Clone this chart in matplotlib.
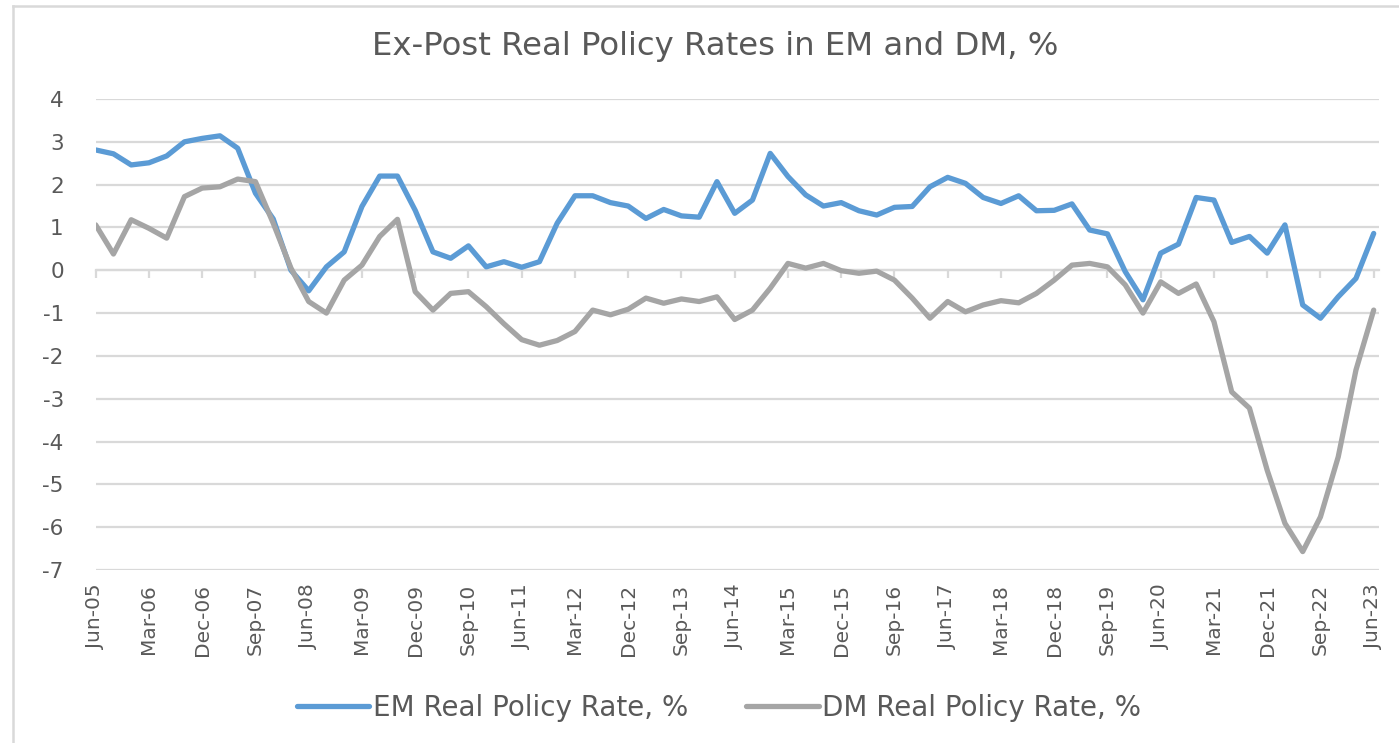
import matplotlib
matplotlib.use("Agg")
import matplotlib.pyplot as plt
from matplotlib.lines import Line2D
import numpy as np

plt.rcParams["axes.unicode_minus"] = False

# ---- data (quarterly, Jun-05 .. Jun-23) ----
em_rate = [2.81, 2.72, 2.46, 2.51, 2.67, 3.00, 3.08, 3.14, 2.85, 1.80,
           1.20, 0.00, -0.48, 0.08, 0.43, 1.49, 2.20, 2.20, 1.40, 0.43,
           0.28, 0.57, 0.08, 0.20, 0.07, 0.20, 1.10, 1.74, 1.74, 1.58,
           1.50, 1.21, 1.42, 1.27, 1.24, 2.07, 1.33, 1.64, 2.73, 2.19,
           1.76, 1.50, 1.58, 1.39, 1.29, 1.47, 1.49, 1.95, 2.17, 2.03,
           1.70, 1.56, 1.74, 1.39, 1.40, 1.55, 0.94, 0.85, -0.03, -0.69,
           0.40, 0.61, 1.70, 1.64, 0.65, 0.79, 0.40, 1.06, -0.81, -1.12,
           -0.62, -0.19, 0.86]
dm_rate = [1.06, 0.38, 1.18, 0.98, 0.75, 1.72, 1.92, 1.95, 2.13, 2.07,
           1.10, 0.05, -0.73, -1.00, -0.23, 0.12, 0.79, 1.19, -0.50, -0.93,
           -0.54, -0.50, -0.85, -1.25, -1.62, -1.75, -1.64, -1.43, -0.93, -1.04,
           -0.91, -0.65, -0.77, -0.67, -0.73, -0.62, -1.15, -0.93, -0.42, 0.16,
           0.05, 0.16, -0.01, -0.07, -0.02, -0.23, -0.65, -1.12, -0.73, -0.97,
           -0.81, -0.71, -0.76, -0.54, -0.23, 0.12, 0.16, 0.08, -0.34, -1.00,
           -0.27, -0.54, -0.32, -1.20, -2.84, -3.22, -4.67, -5.91, -6.57, -5.76,
           -4.36, -2.33, -0.93]
tick_labels = ["Jun-05", "Mar-06", "Dec-06", "Sep-07", "Jun-08", "Mar-09",
               "Dec-09", "Sep-10", "Jun-11", "Mar-12", "Dec-12", "Sep-13",
               "Jun-14", "Mar-15", "Dec-15", "Sep-16", "Jun-17", "Mar-18",
               "Dec-18", "Sep-19", "Jun-20", "Mar-21", "Dec-21", "Sep-22",
               "Jun-23"]
y_ticks = [4, 3, 2, 1, 0, -1, -2, -3, -4, -5, -6, -7]
series_names = ["EM Real Policy Rate, %", "DM Real Policy Rate, %"]
title = "Ex-Post Real Policy Rates in EM and DM, %"

FONT = "DejaVu Sans"
TXT = "#595959"
GRID = "#d9d9d9"
BLUE = "#5B9BD5"
GREY = "#A5A5A5"

W, H = 1399, 743
fig = plt.figure(figsize=(W / 100, H / 100), dpi=100)
fig.patch.set_facecolor("white")

# axes placement (pixels)
x0, x1 = 95.7, 1379.0
ytop, ybot = 99.0, 570.0
ax = fig.add_axes([x0 / W, 1 - ybot / H, (x1 - x0) / W, (ybot - ytop) / H])

x = np.arange(len(em_rate))
ax.plot(x, em_rate, color=BLUE, lw=3.8, solid_joinstyle="round",
        solid_capstyle="round", zorder=3, label=series_names[0])
ax.plot(x, dm_rate, color=GREY, lw=3.8, solid_joinstyle="round",
        solid_capstyle="round", zorder=4, label=series_names[1])

ax.set_ylim(-7, 4)
ax.set_xlim(0, (len(em_rate) - 1) + (x1 - 1373.7) / 17.75)
ax.set_yticks(y_ticks)
ax.set_yticklabels([str(v) for v in y_ticks])
ax.yaxis.grid(True, color=GRID, lw=1.6)
ax.set_axisbelow(True)
for s in ax.spines.values():
    s.set_visible(False)
ax.tick_params(axis="y", length=0, pad=23, labelsize=15.5, labelcolor=TXT)
for t in ax.get_yticklabels():
    t.set_fontfamily(FONT)

# horizontal axis line at zero with tick marks
tick_pos = x[::3]
ax.spines["bottom"].set_visible(True)
ax.spines["bottom"].set_position(("data", 0))
ax.spines["bottom"].set_color(GRID)
ax.spines["bottom"].set_linewidth(1.6)
ax.set_xticks(tick_pos)
ax.set_xticklabels([])
ax.tick_params(axis="x", direction="out", length=6, width=1.6, color=GRID)

# labels at the bottom
sec = ax.secondary_xaxis(0)
sec.set_xticks(tick_pos)
sec.set_xticklabels(tick_labels, rotation=90, fontsize=14.5, color=TXT,
                    fontfamily=FONT)
sec.tick_params(length=0, pad=10)
sec.spines["bottom"].set_visible(False)

fig.text(715 / W, 1 - 47 / H, title, ha="center", va="center",
         fontsize=23.3, color=TXT, fontfamily=FONT)

leg = fig.legend(loc="center", bbox_to_anchor=(719 / W, 1 - 708 / H),
                 ncol=2, frameon=False, handlelength=2.6,
                 handletextpad=0.12, columnspacing=2.1,
                 prop={"family": FONT, "size": 20})
for t in leg.get_texts():
    t.set_color(TXT)

# chart frame (left and top edges visible)
fig.add_artist(Line2D([13 / W, 13 / W], [0, 1 - 6 / H], color=GRID, lw=1.8,
                      transform=fig.transFigure))
fig.add_artist(Line2D([13 / W, 1], [1 - 6 / H, 1 - 6 / H], color=GRID, lw=1.8,
                      transform=fig.transFigure))

fig.savefig("out.png", dpi=100)
